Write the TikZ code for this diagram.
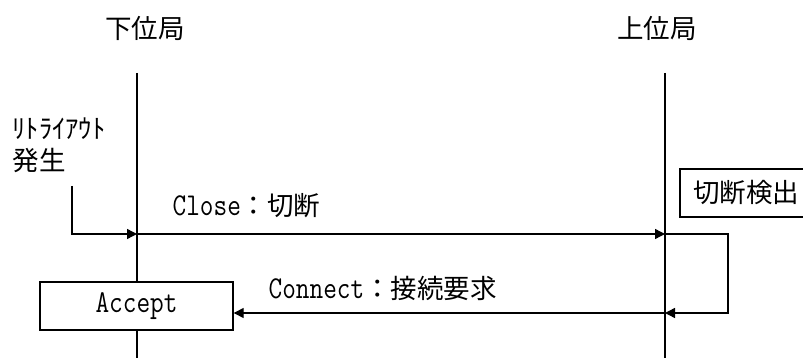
\documentclass[tikz,border=0pt]{standalone}
\usepackage{fontspec}
\newfontfamily\jp{Noto Sans CJK JP}
\usetikzlibrary{arrows.meta}
\newcommand\lat[1]{\scalebox{1}[1.2]{\ttfamily\fontsize{26.5}{30}\selectfont #1}}
\newcommand\jpt[1]{{\jp\fontsize{26.5}{30}\selectfont #1}}
\begin{document}
\begin{tikzpicture}[x=1pt,y=-1pt,line width=1.4pt,
  >={Triangle[length=10pt,width=10pt]},
  txt/.style={inner sep=0pt,anchor=west},
  boxnode/.style={draw,fill=white,inner sep=0pt,line width=1.4pt}]
\useasboundingbox (0,0) rectangle (803,358);
% headers
\node[inner sep=0pt] (lowhdr) at (145,28) {\jpt{下位局}};
\node[inner sep=0pt] (uphdr) at (657,28) {\jpt{上位局}};
% lifelines
\coordinate (Ltop) at (137,73);
\coordinate (Lbot) at (137,358);
\coordinate (Rtop) at (665,73);
\coordinate (Rbot) at (665,358);
\draw (Ltop) -- (Lbot);
\draw (Rtop) -- (Rbot);
% retry label
\node[txt] (retry) at (12,129) {\jpt{ﾘﾄﾗｲｱｳﾄ}};
\node[txt] (occur) at (12,160) {\jpt{発生}};
% coordinates
\coordinate (retrytop) at (72,186);
\coordinate (Lclose) at (137,234);
\coordinate (Rclose) at (665,234);
\coordinate (loopA) at (728,234);
\coordinate (loopB) at (728,313);
\coordinate (Rconn) at (665,313);
% boxes
\node[boxnode,minimum width=193pt,minimum height=48pt] (accept) at (136.5,306) {\lat{Accept}};
\node[boxnode,minimum width=132pt,minimum height=48pt] (detect) at (746,193) {\jpt{切断検出}};
% messages
\draw[->] (retrytop) |- (Lclose);
\draw[->] (Lclose) -- (Rclose);
\draw[->] (Rclose) -- (loopA) -- (loopB) -- (Rconn);
\draw[->] (Rconn) -- (accept.east |- Rconn);
% labels
\node[txt] (closelbl) at (172,206) {\lat{Close}\jpt{：切断}};
\node[txt] (connlbl) at (268,288) {\lat{Connect}\jpt{：接続要求}};
\end{tikzpicture}
\end{document}
